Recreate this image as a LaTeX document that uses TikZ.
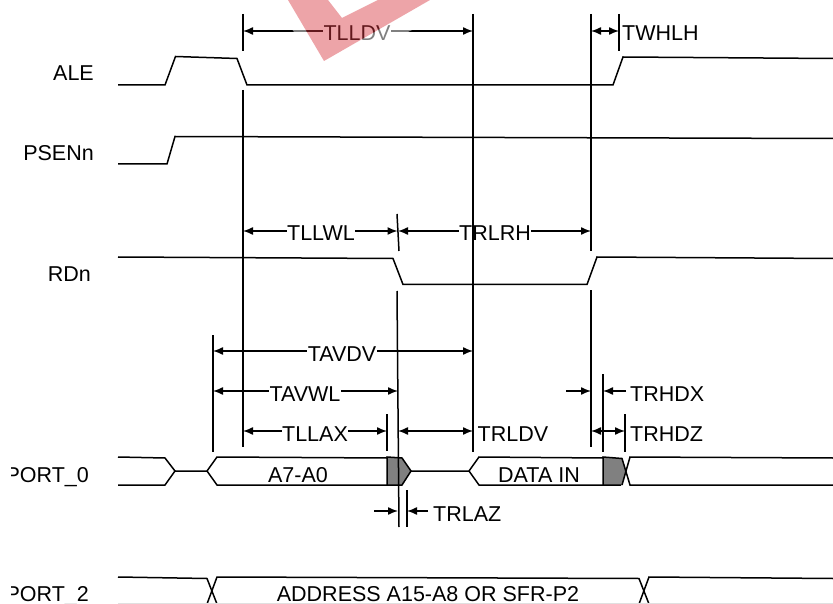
\documentclass[tikz,border=0pt]{standalone}
\usepackage{fontspec}
\setmainfont{Liberation Sans}
\usetikzlibrary{arrows.meta}
\definecolor{wmpink}{RGB}{217,54,64}
\tikzset{
  x=1pt,y=-1pt,
  sig/.style={line width=1.5pt,line join=miter},
  ref/.style={line width=1.5pt},
  dim/.style={line width=1.4pt,{Latex[length=10pt,width=8pt]}-{Latex[length=10pt,width=8pt]}},
  head/.style={line width=1.4pt,-{Latex[length=10pt,width=8pt]}},
  lab/.style={font=\fontsize{21.5}{21.5}\selectfont,inner sep=0pt,anchor=base},
  labl/.style={lab,anchor=base west},
  labr/.style={lab,anchor=base east},
  cut/.style={lab,fill=white,inner xsep=0.5pt,inner ysep=0pt}
}
\begin{document}
\begin{tikzpicture}
\useasboundingbox (0,0) rectangle (833,604);
\fill[white] (0,0) rectangle (833,604);
% dimensions and labels first, so that the reference lines run over them
\draw[dim] (243,31)--(473,31);
\node[cut] (tlldv) at (357,41) {TLLDV};
\draw[dim] (591,31)--(619,31);
\node[labl] (twhlh) at (622,41) {TWHLH};
\draw[dim] (243,231)--(397.5,231);
\node[cut] (tllwl) at (321,241) {TLLWL};
\draw[dim] (398,231)--(591,231);
\node[cut] (trlrh) at (495,241) {TRLRH};
\draw[dim] (213,351)--(473,351);
\node[cut] (tavdv) at (342,361) {TAVDV};
\draw[dim] (213,391)--(398,391);
\node[cut] (tavwl) at (305,401) {TAVWL};
\draw[dim] (243,431)--(387,431);
\node[cut] (tllax) at (315,441) {TLLAX};
\draw[dim] (398,431)--(473,431);
\node[labl] (trldv) at (477.5,441) {TRLDV};
\draw[head] (566,391)--(591,391);
\draw[head] (626,391)--(603,391);
\node[labl] (trhdx) at (630,401) {TRHDX};
\draw[dim] (591,431)--(625,431);
\node[labl] (trhdz) at (630,441) {TRHDZ};
\draw[head] (374,511)--(398,511);
\draw[head] (428,511)--(407,511);
\node[labl] (trlaz) at (433,521) {TRLAZ};
% signals
\draw[sig] (118,85)--(165,85)--(175.5,56.5)--(237,58.5)--(247,85)--(613,85)--(623,57)--(833,58.5);
\draw[sig] (118,164)--(167,164)--(175,136.5)--(833,138.5);
\draw[sig] (118,257)--(393,258.5)--(403,284.5)--(587,284.5)--(597,257)--(833,258.5);
% port 0
\draw[sig] (118,457)--(165,458)--(175,471)--(165,485)--(118,485);
\draw[sig] (175,471)--(207,471)--(217,457)--(387,458);
\draw[sig] (207,471)--(217,485)--(387,485);
\draw[sig,fill=black!50] (387,457)--(402,458)--(411,471)--(402,485)--(387,485)--cycle;
\draw[sig] (411,471)--(469,471)--(479,457)--(603,458);
\draw[sig] (469,471)--(479,485)--(603,485);
\fill[black!50] (603,457)--(622,458.5)--(626,471)--(622,485)--(603,485)--cycle;
\draw[sig] (621,485)--(603,485)--(603,457)--(622,458.5)--(630,485)--(833,485);
\draw[sig] (622,485)--(630,457)--(833,458);
% port 2
\draw[sig] (118,577)--(207,578.5)--(217,604);
\draw[sig] (207,604)--(217,577)--(639,578.5)--(649,604);
\draw[sig] (639,604)--(649,577)--(833,578.5);
\draw[line width=0.6pt,black!12] (118,603.6)--(833,603.6);
% reference lines
\draw[ref] (243,14)--(243,51);
\draw[ref] (243,90)--(243,447);
\draw[ref] (473,14)--(473,452);
\draw[ref] (591,14)--(591,251);
\draw[ref] (591,290)--(591,447);
\draw[ref] (619,14)--(619,51);
\draw[ref] (397,214)--(399,251);
\draw[ref] (397,291)--(399,527);
\draw[ref] (213,335)--(213,452);
\draw[ref] (387,414)--(387,451);
\draw[ref] (603,374)--(603,452);
\draw[ref] (625,414)--(625,452);
\draw[ref] (407,490)--(407,527);
% labels
\node[labr] (ale) at (94,81) {ALE};
\node[labr] (psen) at (94,161) {PSENn};
\node[labr] (rdn) at (91,281) {RDn};
\node[lab] (aa) at (298,482) {A7-A0};
\node[lab] (dat) at (539,482) {DATA IN};
\node[lab] (addr) at (428,601) {ADDRESS A15-A8 OR SFR-P2};
\begin{scope}
\clip (11,450) rectangle (118,604);
\node[labr] (p0) at (89,482) {PORT\_0};
\node[labr] (p2) at (89,601) {PORT\_2};
\end{scope}
% watermark: a pale halo, then the pink check mark
\fill[white,fill opacity=0.5,even odd rule]
  (270,0)--(324,72)--(475,0)--cycle
  (288,0)--(324,61)--(430,0)--cycle;
\fill[wmpink,fill opacity=0.45]
  (288,0)--(324,61)--(430,0)--(378,0)--(342,18)--(328,0)--cycle;
\end{tikzpicture}
\end{document}
